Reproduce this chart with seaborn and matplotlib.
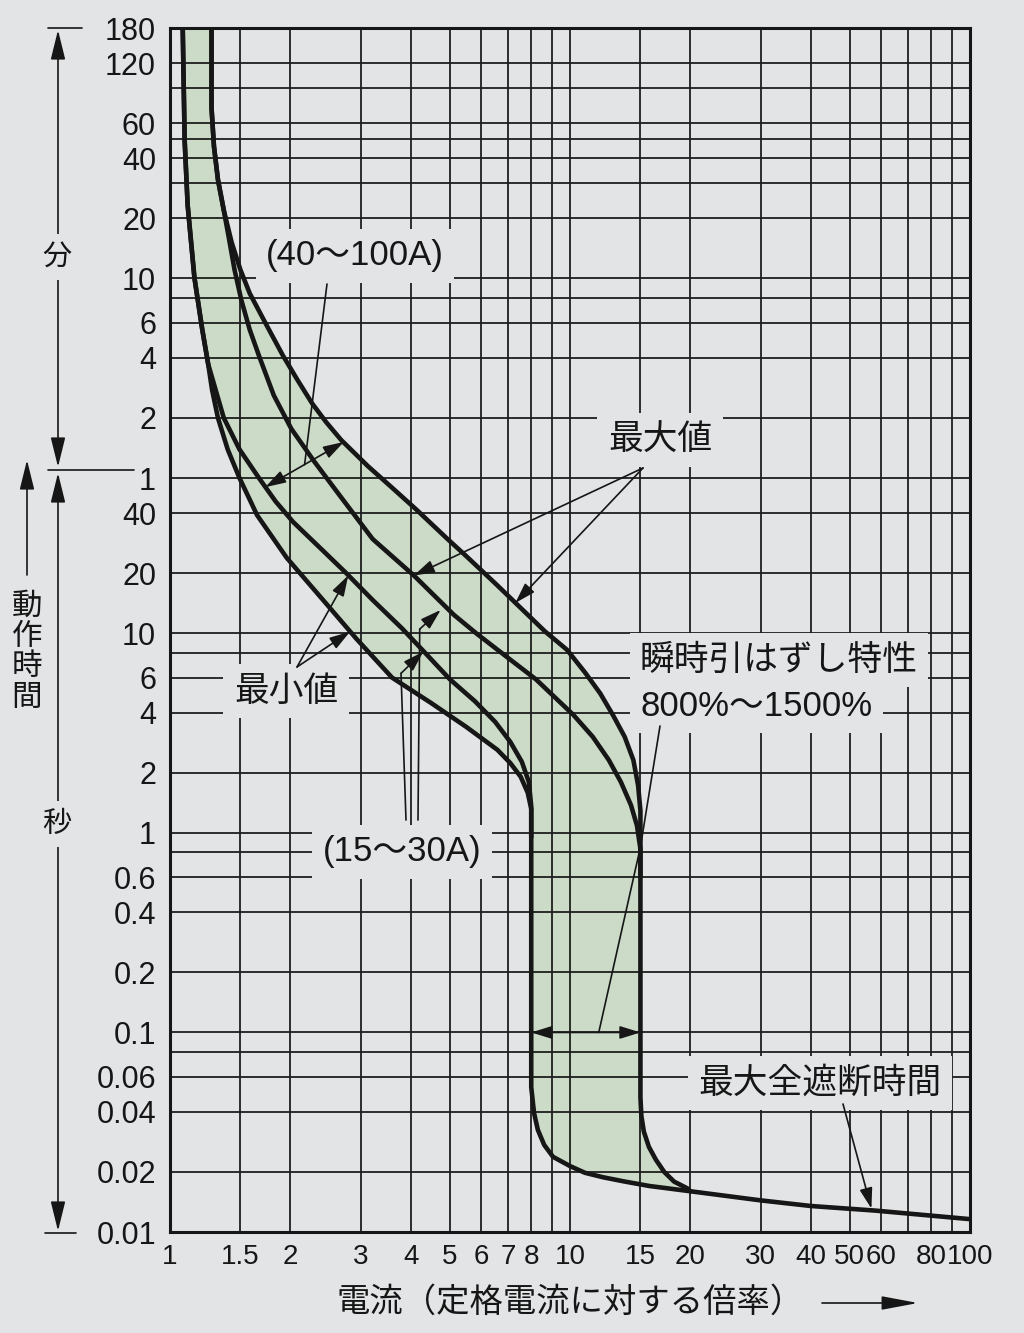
import numpy as np
import pandas as pd
import matplotlib
matplotlib.use("Agg")
import matplotlib.pyplot as plt
from matplotlib.lines import Line2D
import seaborn as sns

# 電流 (定格電流に対する倍率) / 動作時間 [s]
# 最小値 15~30A (left boundary of the band)
min_small_x = [1.076, 1.088, 1.107, 1.151, 1.204, 1.246, 1.274, 1.318, 1.394, 1.492,
               1.651, 1.958, 2.42, 2.92, 3.59, 4.50, 5.50, 6.58, 7.09, 7.53,
               7.84, 8.0, 8.0, 8.0, 8.13, 8.31, 8.62, 9.07, 10.0, 10.9,
               12.1, 13.7, 15.8, 20.0]
min_small_t = [10800, 2950, 1396, 605, 333, 223, 166, 120, 83.5, 60,
               39.1, 23.9, 14.6, 9.42, 6.0, 4.47, 3.40, 2.61, 2.24, 1.91,
               1.59, 1.32, 1.07, 0.0532, 0.0395, 0.0325, 0.0273, 0.0238, 0.0214, 0.0198,
               0.0188, 0.0179, 0.0170, 0.0160]

# 最小値 40~100A
min_large_x = [1.076, 1.088, 1.107, 1.151, 1.204, 1.246, 1.363, 1.492, 1.669, 1.837,
               2.03, 2.42, 2.76, 3.21, 3.80, 4.37, 5.01, 5.79, 6.50, 7.09,
               7.58, 7.89, 8.0, 8.0]
min_large_t = [10800, 2950, 1396, 605, 333, 223, 120, 83.5, 60, 45.8,
               36.2, 25.8, 20, 14.7, 10.6, 7.88, 5.88, 4.56, 3.60, 2.86,
               2.27, 1.80, 1.36, 0.95]

# 最大値 15~30A
max_small_x = [1.27, 1.27, 1.288, 1.318, 1.363, 1.402, 1.450, 1.508, 1.582, 1.669,
               1.817, 2.01, 2.29, 2.64, 3.21, 4.07, 5.12, 5.83, 6.96, 8.22,
               10.2, 11.4, 12.5, 13.4, 14.2, 14.7, 15.0, 15.0]
max_small_t = [10800, 4296, 2754, 1875, 1318, 968, 663, 467, 333, 246,
               156, 106, 73, 49.9, 29.7, 19.5, 12.4, 10.0, 7.6, 5.88,
               3.9, 3.03, 2.32, 1.80, 1.38, 1.09, 0.83, 0.6]

# 最大値 40~100A (right boundary of the band)
max_large_x = [1.27, 1.27, 1.288, 1.318, 1.363, 1.426, 1.5, 1.582, 1.741, 1.917,
               2.08, 2.266, 2.46, 2.68, 3.12, 3.59, 4.14, 4.94, 5.50, 6.58,
               8.67, 9.83, 10.9, 11.9, 12.8, 13.7, 14.4, 14.8, 15.0, 15.0,
               15.08, 15.3, 15.75, 16.4, 17.2, 18.2, 19.7, 20.0]
max_large_t = [10800, 4296, 2754, 1875, 1318, 910, 663, 506, 352, 246,
               187, 142, 114, 93, 69, 53.7, 41.5, 29.7, 24.4, 17.4,
               10.2, 8.27, 6.37, 5.0, 3.9, 3.03, 2.32, 1.73, 1.29, 0.0472,
               0.0382, 0.0318, 0.0267, 0.0230, 0.020, 0.0179, 0.0165, 0.0160]

# 最大全遮断時間
tail_x = [20, 30, 40, 58, 100]
tail_t = [0.016, 0.0144, 0.0135, 0.0128, 0.0116]

x_grid = [1, 1.5, 2, 3, 4, 5, 6, 7, 8, 9, 10, 15, 20, 30, 40, 50, 60, 70, 80, 90, 100]
x_labels = ["1", "1.5", "2", "3", "4", "5", "6", "7", "8", "", "10", "15", "20",
            "30", "40", "50", "60", "", "80", "", "100"]
y_grid = [0.01, 0.02, 0.04, 0.06, 0.08, 0.1, 0.2, 0.4, 0.6, 0.8, 1, 2, 4, 6, 8, 10,
          20, 40, 60, 120, 240, 360, 480, 600, 1200, 1800, 2400, 3000, 3600, 5400,
          7200, 10800]
y_labels = ["0.01", "0.02", "0.04", "0.06", "", "0.1", "0.2", "0.4", "0.6", "", "1",
            "2", "4", "6", "", "10", "20", "40", "1", "2", "4", "6", "", "10", "20",
            "", "40", "", "60", "", "120", "180"]

BG = "#e3e4e6"
GREEN = "#ccdbc8"
INK = "#161616"

sns.set_theme(style="white", rc={"axes.facecolor": BG, "figure.facecolor": BG})
plt.rcParams["font.family"] = ["Liberation Sans", "Noto Sans CJK JP", "DejaVu Sans"]

curves = {
    "min_15_30": (min_small_x, min_small_t),
    "min_40_100": (min_large_x, min_large_t),
    "max_15_30": (max_small_x, max_small_t),
    "max_40_100": (max_large_x, max_large_t),
    "tail": (tail_x, tail_t),
}
rows = []
for name, (xs, ts) in curves.items():
    for x, t in zip(xs, ts):
        rows.append((name, x, t))
df = pd.DataFrame(rows, columns=["curve", "current", "time"])

W, H = 1024, 1333
fig = plt.figure(figsize=(W / 100, H / 100), dpi=100)
ax = fig.add_axes([170 / W, 101 / H, 800 / W, 1204 / H])
ax.set_xscale("log")
ax.set_yscale("log")
ax.set_xlim(1, 100)
ax.set_ylim(0.01, 10800)

# shaded band between the outer curves
band_x = list(min_small_x) + list(max_large_x)[::-1]
band_t = list(min_small_t) + list(max_large_t)[::-1]
ax.fill(band_x, band_t, color=GREEN, lw=0, zorder=1)

sns.lineplot(data=df, x="current", y="time", units="curve", estimator=None,
             sort=False, color=INK, linewidth=3.3, legend=False, ax=ax,
             zorder=3, solid_joinstyle="round")

ax.set_xticks(x_grid)
ax.set_xticklabels(x_labels)
ax.set_xticks([], minor=True)
ax.set_yticks(y_grid)
ax.set_yticklabels(y_labels)
ax.set_yticks([], minor=True)
ax.set_axisbelow("line")
ax.grid(True, which="major", color="#1e1e1e", lw=1.3)
ax.tick_params(axis="both", length=0, colors=INK)
ax.tick_params(axis="y", labelsize=22, pad=10)
ax.tick_params(axis="x", labelsize=20, pad=9)
ax.set_xlabel("")
ax.set_ylabel("")
for sp in ax.spines.values():
    sp.set_color(INK)
    sp.set_linewidth(2.2)


def label(px, py, s, size=25, ha="center", pad=0.3):
    ax.text((px - 170) / 800, (1232 - py) / 1204, s, transform=ax.transAxes,
            ha=ha, va="center", fontsize=size, color=INK, zorder=4,
            bbox=dict(boxstyle=f"square,pad={pad}", fc=BG, ec="none"))


def afrac(px, py):
    return ((px - 170) / 800, (1232 - py) / 1204)


def arrow(tip, tail, style="-|>", tail_coords="data"):
    if style != "-":
        style = style + ",head_length=0.9,head_width=0.28"
    ax.annotate("", xy=tip, xycoords="data", xytext=tail, textcoords=tail_coords,
                arrowprops=dict(arrowstyle=style, color=INK, lw=1.2,
                                mutation_scale=14, shrinkA=0, shrinkB=0),
                zorder=5, annotation_clip=False)


label(355, 256, "(40～100A)")
label(660, 440, "最大値")
label(286, 691, "最小値")
label(402, 852, "(15～30A)")
label(640, 660, "瞬時引はずし特性", ha="left")
label(640, 706, "800%～1500%", ha="left")
label(820, 1083, "最大全遮断時間")

# (40~100A)
arrow((1.73, 54), (2.72, 91), style="<|-|>")
arrow((2.17, 70), afrac(327, 284), style="-", tail_coords="axes fraction")
# 最大値
arrow((4.07, 19.5), afrac(643, 468), tail_coords="axes fraction")
arrow((7.3, 14.2), afrac(643, 468), tail_coords="axes fraction")
# 最小値
arrow((2.79, 19.5), afrac(297, 667), tail_coords="axes fraction")
arrow((2.82, 10.2), afrac(297, 667), tail_coords="axes fraction")
# (15~30A)
arrow((3.78, 6.3), afrac(406, 820), style="-", tail_coords="axes fraction")
arrow((4.3, 8.1), (3.78, 6.3))
arrow((4.21, 10.5), afrac(418, 820), style="-", tail_coords="axes fraction")
arrow((4.75, 13.1), (4.21, 10.5))
# 瞬時引はずし特性
arrow((15, 0.85), afrac(660, 726), style="-", tail_coords="axes fraction")
arrow((11.8, 0.1), (15, 0.85), style="-")
arrow((8, 0.1), (15, 0.1), style="<|-|>")
# 最大全遮断時間
arrow((56.7, 0.0131), afrac(843, 1104), tail_coords="axes fraction")


# left side: 分 / 秒 / 動作時間
def fpos(px, py):
    return (px / W, 1 - py / H)


def fig_arrow(p0, p1, style):
    fig.add_artist(matplotlib.patches.FancyArrowPatch(
        fpos(*p0), fpos(*p1), transform=fig.transFigure, arrowstyle=style,
        mutation_scale=14, color=INK, lw=1.2, shrinkA=0, shrinkB=0))


def fig_line(p0, p1):
    (x0, y0), (x1, y1) = fpos(*p0), fpos(*p1)
    fig.add_artist(Line2D([x0, x1], [y0, y1], transform=fig.transFigure,
                          color=INK, lw=1.2))


head = "<|-|>,head_length=1.3,head_width=0.32"
fig_arrow((58, 30), (58, 467), head)
fig_arrow((58, 473), (58, 1231), head)
fig_arrow((27, 575), (27, 460), "-|>,head_length=1.3,head_width=0.32")
fig_line((48, 28), (82, 28))
fig_line((48, 470), (134, 470))
fig_line((45, 1233), (76, 1233))

for px, py, s in [(57, 257, "分"), (57, 824, "秒")]:
    fig.text(px / W, 1 - py / H, s, ha="center", va="center", fontsize=21,
             color=INK, bbox=dict(boxstyle="square,pad=0.3", fc=BG, ec="none"))
fig.text(27 / W, 1 - 652 / H, "動\n作\n時\n間", ha="center", va="center",
         fontsize=22, color=INK, linespacing=1.02)

# x axis title with arrow
fig.text(570 / W, 1 - 1303 / H, "電流（定格電流に対する倍率）", ha="center",
         va="center", fontsize=24, color=INK)
fig_arrow((822, 1303), (918, 1303), "-|>,head_length=1.6,head_width=0.3")

fig.savefig("out.png", dpi=100, facecolor=BG)
